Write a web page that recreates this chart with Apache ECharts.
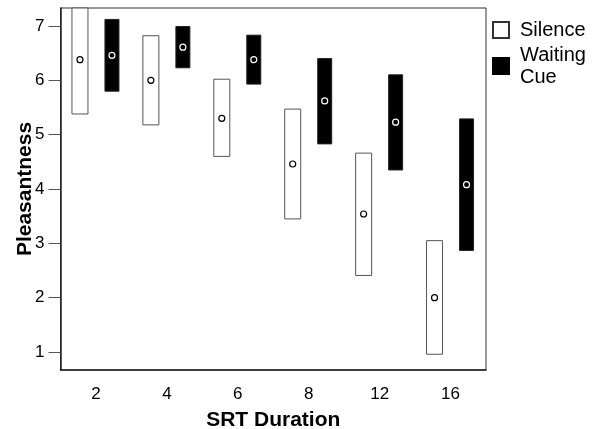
<!DOCTYPE html>
<html>
<head>
<meta charset="utf-8">
<script src="https://cdn.jsdelivr.net/npm/echarts@6/dist/echarts.min.js"></script>
<style>
  html, body { margin: 0; padding: 0; background: #fff; }
  #chart { width: 600px; height: 429px; }
</style>
</head>
<body>
<div id="chart"></div>
<script>
const durations = ['2', '4', '6', '8', '12', '16']
const yTicks = [1, 2, 3, 4, 5, 6, 7]

// low / high / mean per duration
const silenceLow = [5.38, 5.18, 4.6, 3.45, 2.41, 0.96]
const silenceHigh = [7.45, 6.82, 6.02, 5.47, 4.66, 3.05]
const silenceMean = [6.38, 6.0, 5.3, 4.46, 3.54, 2.0]

const cueLow = [5.8, 6.23, 5.93, 4.83, 4.35, 2.87]
const cueHigh = [7.12, 6.99, 6.83, 6.4, 6.1, 5.29]
const cueMean = [6.46, 6.61, 6.38, 5.62, 5.23, 4.08]

const font = 'Arial, "Liberation Sans", sans-serif'

const toRows = (low, high, mean) => durations.map((_, i) => [i, low[i], high[i], mean[i]])

const makeRender = (offset, width, filled) => (params, api) => {
  const lowPt = api.coord([api.value(0), api.value(1)])
  const highPt = api.coord([api.value(0), api.value(2)])
  const meanPt = api.coord([api.value(0), api.value(3)])
  const cs = params.coordSys
  const rect = echarts.graphic.clipRectByRect(
    { x: lowPt[0] + offset - width / 2, y: highPt[1], width: width, height: lowPt[1] - highPt[1] },
    { x: cs.x, y: cs.y, width: cs.width, height: cs.height }
  )
  return {
    type: 'group',
    children: [
      {
        type: 'rect',
        shape: rect,
        style: { fill: filled ? '#000' : '#fff', stroke: filled ? '#222' : '#555', lineWidth: 1 },
      },
      {
        type: 'circle',
        shape: { cx: meanPt[0] + offset, cy: meanPt[1], r: 3 },
        style: { fill: filled ? '#000' : '#fff', stroke: filled ? '#fff' : '#000', lineWidth: 1.2 },
      },
    ],
  }
}

const chart = echarts.init(document.getElementById('chart'))
chart.setOption({
  animation: false,
  grid: {
    left: 60.5,
    right: 114,
    top: 8,
    bottom: 59,
    outerBoundsMode: 'none',
    containLabel: false,
    show: true,
    borderColor: '#333',
    borderWidth: 1,
  },
  legend: {
    orient: 'vertical',
    left: 492,
    top: 19,
    padding: 0,
    icon: 'rect',
    itemWidth: 16,
    itemHeight: 16,
    itemGap: 3,
    textStyle: { fontFamily: font, fontSize: 20, color: '#000', lineHeight: 22, padding: [0, 0, 0, 6] },
    data: ['Silence', 'Waiting\nCue'],
  },
  xAxis: {
    type: 'category',
    data: durations,
    name: 'SRT Duration',
    nameLocation: 'middle',
    nameGap: 40,
    nameTextStyle: { fontFamily: font, fontSize: 21, fontWeight: 'bold', color: '#000' },
    axisLine: { lineStyle: { color: '#222', width: 1.5 } },
    axisTick: { alignWithLabel: true, length: 12, lineStyle: { color: '#555' } },
    axisLabel: { fontFamily: font, fontSize: 17, color: '#000', margin: 16 },
    splitLine: { show: false },
  },
  yAxis: {
    type: 'value',
    min: 0.67,
    max: 7.33,
    name: 'Pleasantness',
    nameLocation: 'middle',
    nameGap: 25,
    nameMoveOverlap: false,
    nameTextStyle: { fontFamily: font, fontSize: 21, fontWeight: 'bold', color: '#000' },
    axisLine: { show: true, lineStyle: { color: '#222', width: 1.5 } },
    axisTick: { show: true, length: 12, customValues: yTicks, lineStyle: { color: '#555' } },
    axisLabel: { fontFamily: font, fontSize: 17, color: '#000', margin: 16, customValues: yTicks },
    splitLine: { show: false },
  },
  series: [
    {
      name: 'Silence',
      type: 'custom',
      renderItem: makeRender(-16, 16, false),
      itemStyle: { color: '#fff', borderColor: '#333', borderWidth: 1 },
      encode: { x: 0, y: [1, 2, 3] },
      data: toRows(silenceLow, silenceHigh, silenceMean),
    },
    {
      name: 'Waiting\nCue',
      type: 'custom',
      renderItem: makeRender(16, 14, true),
      itemStyle: { color: '#000', borderColor: '#000', borderWidth: 1 },
      encode: { x: 0, y: [1, 2, 3] },
      data: toRows(cueLow, cueHigh, cueMean),
    },
  ],
})
</script>
</body>
</html>
